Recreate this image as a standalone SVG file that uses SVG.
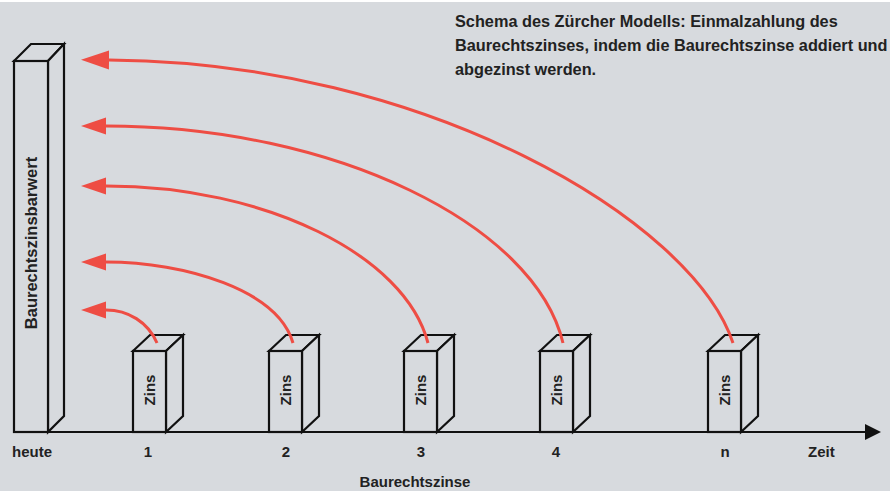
<svg xmlns="http://www.w3.org/2000/svg" width="890" height="491" viewBox="0 0 890 491">
<defs>
<style>
.bg{fill:#d7dade}
.box{fill:#d7dade;stroke:#111;stroke-width:2.2;stroke-linejoin:miter}
.arc{fill:none;stroke:#ee4d44;stroke-width:3}
.t{font-family:"Liberation Sans",Arial,sans-serif;font-weight:bold;fill:#222}
</style>
<marker id="ah" markerUnits="userSpaceOnUse" markerWidth="30" markerHeight="20" viewBox="0 -10 30 20" refX="0" refY="0" orient="auto">
<path d="M0,-8.5 L25,0 L0,8.5 z" fill="#ee4d44"/>
</marker>
<marker id="ahL" markerUnits="userSpaceOnUse" markerWidth="32" markerHeight="22" viewBox="0 -11 32 22" refX="0" refY="0" orient="auto">
<path d="M0,-9.5 L28,0 L0,9.5 z" fill="#ee4d44"/>
</marker>
</defs>
<rect class="bg" x="0" y="2" width="890" height="489"/>
<rect x="0" y="0" width="890" height="2" fill="#ffffff"/>

<g id="title">
<text class="t" x="455" y="27" font-size="16.3">Schema des Zürcher Modells: Einmalzahlung des</text>
<text class="t" x="455" y="51" font-size="16.3">Baurechtszinses, indem die Baurechtszinse addiert und</text>
<text class="t" x="455" y="75" font-size="16.3">abgezinst werden.</text>
</g>

<g id="barwert">
<path class="box" d="M14,61 L31,44 L64,44 L48,61 Z"/>
<path class="box" d="M48,61 L64,44 L64,416 L48,432 Z"/>
<rect class="box" x="14" y="61" width="34" height="371"/>
<text class="t" font-size="16.5" text-anchor="middle" transform="translate(37,243) rotate(-90)">Baurechtszinsbarwert</text>
</g>

<g id="zins1">
<path class="box" d="M133,351 L150,335 L183,335 L166,351 Z"/>
<path class="box" d="M166,351 L183,335 L183,416 L166,432 Z"/>
<rect class="box" x="133" y="351" width="33" height="81"/>
<text class="t" font-size="15" text-anchor="middle" transform="translate(155,390) rotate(-90)">Zins</text>
</g>
<g id="zins2">
<path class="box" d="M269,351 L286,335 L319,335 L302,351 Z"/>
<path class="box" d="M302,351 L319,335 L319,416 L302,432 Z"/>
<rect class="box" x="269" y="351" width="33" height="81"/>
<text class="t" font-size="15" text-anchor="middle" transform="translate(291,390) rotate(-90)">Zins</text>
</g>
<g id="zins3">
<path class="box" d="M404,351 L421,335 L454,335 L437,351 Z"/>
<path class="box" d="M437,351 L454,335 L454,416 L437,432 Z"/>
<rect class="box" x="404" y="351" width="33" height="81"/>
<text class="t" font-size="15" text-anchor="middle" transform="translate(426,390) rotate(-90)">Zins</text>
</g>
<g id="zins4">
<path class="box" d="M540,351 L557,335 L590,335 L573,351 Z"/>
<path class="box" d="M573,351 L590,335 L590,416 L573,432 Z"/>
<rect class="box" x="540" y="351" width="33" height="81"/>
<text class="t" font-size="15" text-anchor="middle" transform="translate(562,390) rotate(-90)">Zins</text>
</g>
<g id="zinsn">
<path class="box" d="M708,351 L725,335 L758,335 L741,351 Z"/>
<path class="box" d="M741,351 L758,335 L758,416 L741,432 Z"/>
<rect class="box" x="708" y="351" width="33" height="81"/>
<text class="t" font-size="15" text-anchor="middle" transform="translate(730,390) rotate(-90)">Zins</text>
</g>

<g id="axis">
<line x1="14" y1="432" x2="867" y2="432" stroke="#111" stroke-width="2.2"/>
<path d="M865,424 L881,432 L865,440 Z" fill="#111"/>
<text class="t" x="12" y="457" font-size="15">heute</text>
<text class="t" x="148" y="457" font-size="15" text-anchor="middle">1</text>
<text class="t" x="286" y="457" font-size="15" text-anchor="middle">2</text>
<text class="t" x="421" y="457" font-size="15" text-anchor="middle">3</text>
<text class="t" x="556" y="457" font-size="15" text-anchor="middle">4</text>
<text class="t" x="725" y="457" font-size="15" text-anchor="middle">n</text>
<text class="t" x="808" y="457" font-size="15">Zeit</text>
<text class="t" x="415" y="487" font-size="15" text-anchor="middle">Baurechtszinse</text>
</g>

<g id="connectors">
<path class="arc" marker-end="url(#ah)" d="M157,343 C148,322 128,310 106,310"/>
<path class="arc" marker-end="url(#ah)" d="M293,343 C278,290 185,262 106,262"/>
<path class="arc" marker-end="url(#ah)" d="M428,343 C405,255 265,186 106,186"/>
<path class="arc" marker-end="url(#ah)" d="M563,343 C535,225 335,126 106,126"/>
<path class="arc" marker-end="url(#ahL)" d="M733,343 C692,220 425,62 109,60"/>
</g>
</svg>
